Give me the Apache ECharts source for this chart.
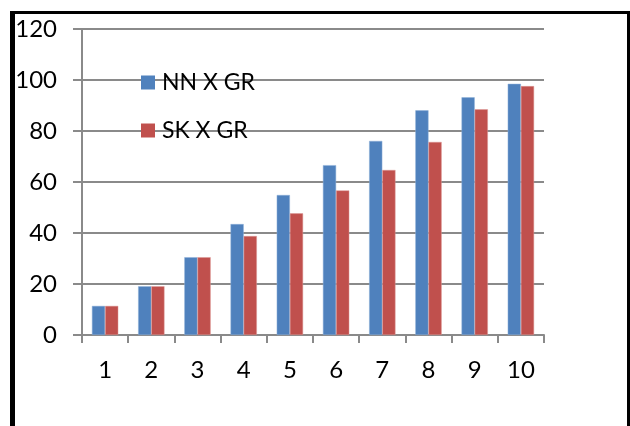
<!DOCTYPE html>
<html>
<head>
<meta charset="utf-8">
<style>
  html, body { margin: 0; padding: 0; background: #fff; }
  #chart { width: 630px; height: 426px; }
</style>
<script src="https://cdn.jsdelivr.net/npm/echarts@6/dist/echarts.min.js"></script>
</head>
<body>
<div id="chart"></div>
<script>
// Category labels along the x axis
const categories = ['1', '2', '3', '4', '5', '6', '7', '8', '9', '10'];
// Series values
const nnValues = [11.4, 19.1, 30.5, 43.5, 54.9, 66.6, 76.1, 88.1, 93.2, 98.5];
const skValues = [11.4, 19.1, 30.5, 38.8, 47.7, 56.7, 64.7, 75.7, 88.5, 97.6];
const seriesNames = ['NN X GR', 'SK X GR'];
// Value axis range
const yMin = 0, yMax = 120, yStep = 20;

const FONT = 'Lato';
const gridColor = '#8a8a8a';

const chart = echarts.init(document.getElementById('chart'), null, { renderer: 'canvas' });

chart.setOption({
  animation: false,
  backgroundColor: '#ffffff',
  graphic: [
    // frame around the chart
    { type: 'rect', shape: { x: 10, y: 11, width: 5, height: 420 }, style: { fill: '#000' }, silent: true },
    { type: 'rect', shape: { x: 10, y: 11, width: 620, height: 3 }, style: { fill: '#000' }, silent: true },
    { type: 'rect', shape: { x: 627, y: 11, width: 3, height: 420 }, style: { fill: '#000' }, silent: true }
  ],
  grid: { left: 82, right: 86, top: 29, bottom: 91, containLabel: false },
  legend: {
    orient: 'vertical',
    left: 141,
    top: 71,
    padding: 0,
    itemWidth: 14,
    itemHeight: 14,
    itemGap: 25,
    icon: 'rect',
    itemStyle: { borderWidth: 0 },
    textStyle: { fontFamily: FONT, fontSize: 23, color: '#000', lineHeight: 23, padding: [0, 0, 0, 2] },
    data: seriesNames
  },
  xAxis: {
    type: 'category',
    data: categories,
    boundaryGap: true,
    axisLine: { lineStyle: { color: gridColor, width: 2 } },
    axisTick: { show: true, length: 8, lineStyle: { color: gridColor, width: 2 } },
    axisLabel: { fontFamily: FONT, fontSize: 24, color: '#000', margin: 23 }
  },
  yAxis: {
    type: 'value',
    min: yMin,
    max: yMax,
    interval: yStep,
    axisLine: { show: true, lineStyle: { color: gridColor, width: 2 } },
    axisTick: { show: true, length: 9, lineStyle: { color: gridColor, width: 2 } },
    axisLabel: { fontFamily: FONT, fontSize: 24, color: '#000', margin: 25 },
    splitLine: { show: true, lineStyle: { color: gridColor, width: 2 } }
  },
  series: [
    {
      name: seriesNames[0],
      type: 'bar',
      data: nnValues,
      barGap: '0%',
      barCategoryGap: '43%',
      itemStyle: { color: '#4F81BD', borderColor: '#8fb0d8', borderWidth: 0.5 }
    },
    {
      name: seriesNames[1],
      type: 'bar',
      data: skValues,
      barGap: '0%',
      barCategoryGap: '43%',
      itemStyle: { color: '#C0504D', borderColor: '#dc9896', borderWidth: 0.5 }
    }
  ]
});
</script>
</body>
</html>
